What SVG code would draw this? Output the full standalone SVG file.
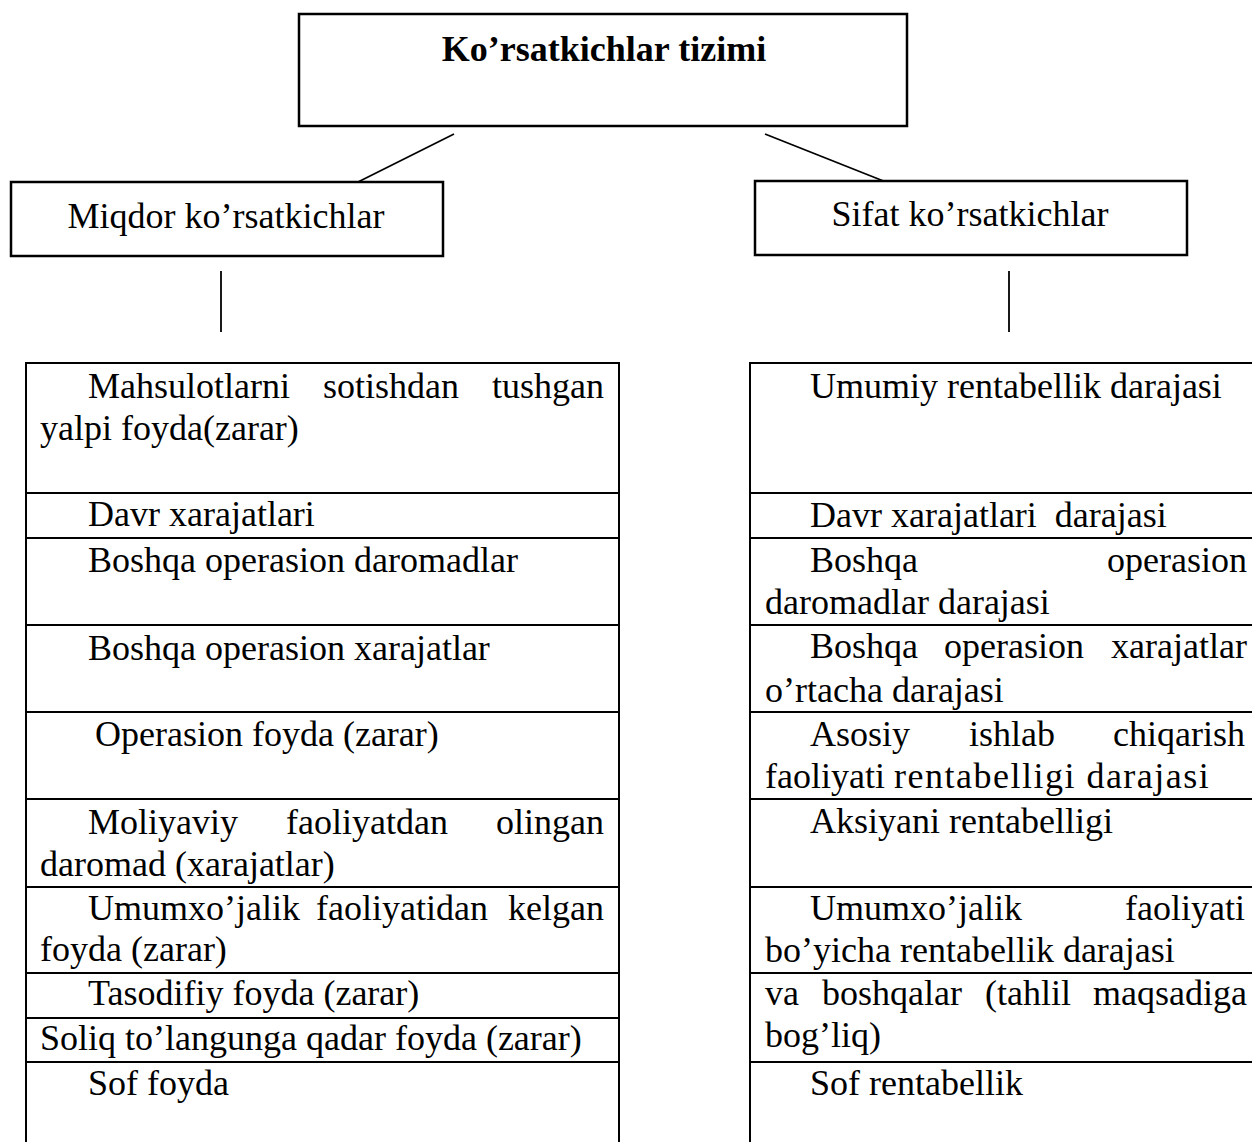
<svg xmlns="http://www.w3.org/2000/svg" width="1252" height="1142" viewBox="0 0 1252 1142">
  <style>
    .box { fill: #fff; stroke: #000; stroke-width: 2.5; }
    .cell { fill: none; stroke: #000; stroke-width: 2; }
    .link { stroke: #000; stroke-width: 1.8; fill: none; }
    text { font-family: "Liberation Serif", "Times New Roman", serif; font-size: 36px; fill: #000; }
    .title { font-weight: bold; text-anchor: middle; }
    .mid { text-anchor: middle; }
    .end { text-anchor: end; }
  </style>
  <rect width="1252" height="1142" fill="#fff"/>

  <!-- connectors -->
  <g id="connectors">
    <line class="link" x1="454" y1="134" x2="358" y2="182"/>
    <line class="link" x1="765" y1="134" x2="886" y2="182"/>
    <line class="link" x1="221" y1="271" x2="221" y2="332"/>
    <line class="link" x1="1009" y1="271" x2="1009" y2="332"/>
  </g>

  <!-- root -->
  <g id="root">
    <rect class="box" x="299" y="14" width="608" height="112"/>
    <text class="title" x="604" y="61">Ko’rsatkichlar tizimi</text>
  </g>

  <!-- quantitative indicators -->
  <g id="miqdor">
    <rect class="box" x="11" y="182" width="432" height="74"/>
    <text class="mid" x="226" y="228">Miqdor ko’rsatkichlar</text>
  </g>

  <!-- qualitative indicators -->
  <g id="sifat">
    <rect class="box" x="755" y="181" width="432" height="74"/>
    <text class="mid" x="970" y="226">Sifat ko’rsatkichlar</text>
  </g>

  <!-- left list (justified lines are set word by word) -->
  <g id="miqdor-list">
    <g id="m1">
      <rect class="cell" x="26" y="363" width="593" height="130"/>
      <text x="88" y="398">Mahsulotlarni</text>
      <text x="323" y="398">sotishdan</text>
      <text class="end" x="604" y="398">tushgan</text>
      <text x="40" y="440">yalpi foyda(zarar)</text>
    </g>
    <g id="m2">
      <rect class="cell" x="26" y="493" width="593" height="45"/>
      <text x="88" y="526">Davr xarajatlari</text>
    </g>
    <g id="m3">
      <rect class="cell" x="26" y="538" width="593" height="87"/>
      <text x="88" y="572">Boshqa operasion daromadlar</text>
    </g>
    <g id="m4">
      <rect class="cell" x="26" y="625" width="593" height="87"/>
      <text x="88" y="660">Boshqa operasion xarajatlar</text>
    </g>
    <g id="m5">
      <rect class="cell" x="26" y="712" width="593" height="87"/>
      <text x="95" y="746">Operasion foyda (zarar)</text>
    </g>
    <g id="m6">
      <rect class="cell" x="26" y="799" width="593" height="88"/>
      <text x="88" y="834">Moliyaviy</text>
      <text x="286" y="834">faoliyatdan</text>
      <text class="end" x="604" y="834">olingan</text>
      <text x="40" y="876">daromad (xarajatlar)</text>
    </g>
    <g id="m7">
      <rect class="cell" x="26" y="887" width="593" height="86"/>
      <text x="88" y="920">Umumxo’jalik</text>
      <text x="316" y="920">faoliyatidan</text>
      <text class="end" x="604" y="920">kelgan</text>
      <text x="40" y="961">foyda (zarar)</text>
    </g>
    <g id="m8">
      <rect class="cell" x="26" y="973" width="593" height="45"/>
      <text x="88" y="1005">Tasodifiy foyda (zarar)</text>
    </g>
    <g id="m9">
      <rect class="cell" x="26" y="1018" width="593" height="44"/>
      <text x="40" y="1050">Soliq to’langunga qadar foyda (zarar)</text>
    </g>
    <g id="m10">
      <rect class="cell" x="26" y="1062" width="593" height="100"/>
      <text x="88" y="1095">Sof foyda</text>
    </g>
  </g>

  <!-- right list -->
  <g id="sifat-list">
    <g id="s1">
      <rect class="cell" x="750" y="363" width="530" height="130"/>
      <text x="810" y="398">Umumiy rentabellik darajasi</text>
    </g>
    <g id="s2">
      <rect class="cell" x="750" y="493" width="530" height="45"/>
      <text x="810" y="527" xml:space="preserve">Davr xarajatlari  darajasi</text>
    </g>
    <g id="s3">
      <rect class="cell" x="750" y="538" width="530" height="87"/>
      <text x="810" y="572">Boshqa</text>
      <text class="end" x="1247" y="572">operasion</text>
      <text x="765" y="614">daromadlar darajasi</text>
    </g>
    <g id="s4">
      <rect class="cell" x="750" y="625" width="530" height="87"/>
      <text x="810" y="658">Boshqa</text>
      <text x="944" y="658">operasion</text>
      <text class="end" x="1247" y="658">xarajatlar</text>
      <text x="765" y="702">o’rtacha darajasi</text>
    </g>
    <g id="s5">
      <rect class="cell" x="750" y="712" width="530" height="87"/>
      <text x="810" y="746">Asosiy</text>
      <text x="969" y="746">ishlab</text>
      <text class="end" x="1245" y="746">chiqarish</text>
      <text x="765" y="788" xml:space="preserve">faoliyati <tspan letter-spacing="1.5">rentabelligi darajasi</tspan></text>
    </g>
    <g id="s6">
      <rect class="cell" x="750" y="799" width="530" height="88"/>
      <text x="810" y="833">Aksiyani rentabelligi</text>
    </g>
    <g id="s7">
      <rect class="cell" x="750" y="887" width="530" height="86"/>
      <text x="810" y="920">Umumxo’jalik</text>
      <text class="end" x="1245" y="920">faoliyati</text>
      <text x="765" y="962">bo’yicha rentabellik darajasi</text>
    </g>
    <g id="s8">
      <rect class="cell" x="750" y="973" width="530" height="89"/>
      <text x="765" y="1005">va</text>
      <text x="822" y="1005">boshqalar</text>
      <text x="985" y="1005">(tahlil</text>
      <text class="end" x="1247" y="1005">maqsadiga</text>
      <text x="765" y="1047">bog’liq)</text>
    </g>
    <g id="s9">
      <rect class="cell" x="750" y="1062" width="530" height="100"/>
      <text x="810" y="1095">Sof rentabellik</text>
    </g>
  </g>
</svg>
